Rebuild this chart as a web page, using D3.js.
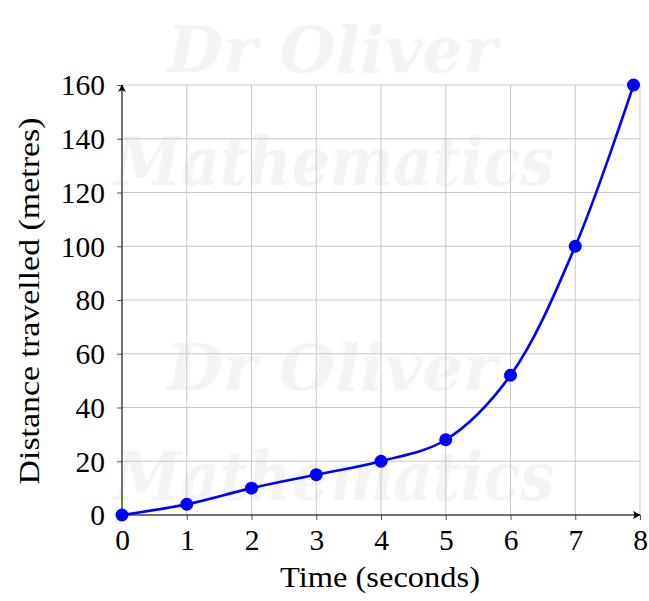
<!DOCTYPE html>
<html><head><meta charset="utf-8">
<script src="https://cdn.jsdelivr.net/npm/d3@7"></script>
<style>body{margin:0;background:#fff}</style>
</head><body>
<svg id="c" width="649" height="601"></svg>
<script>
const timeValues = [0, 1, 2, 3, 4, 5, 6, 7, 7.9];
const distanceValues = [0, 4, 10, 15, 20, 28, 52, 100, 160];
const xTicks = [0, 1, 2, 3, 4, 5, 6, 7, 8];
const yTicks = [0, 20, 40, 60, 80, 100, 120, 140, 160];
const xLabel = "Time (seconds)";
const yLabel = "Distance travelled (metres)";
const watermark = ["Dr Oliver", "Mathematics"];

const svg = d3.select("#c");
const font = "'Liberation Serif', 'DejaVu Serif', serif";
const x = d3.scaleLinear().domain([0, 8]).range([122, 640]);
const y = d3.scaleLinear().domain([0, 160]).range([515, 85]);

// watermark
const wm = svg.append("g").attr("fill", "#f4f4f4").attr("font-family", "'DejaVu Serif', serif")
  .attr("font-style", "italic").attr("font-weight", "bold").attr("text-anchor", "middle");
[[332, 72, 0], [334, 185, 1], [332, 390, 0], [334, 500, 1]].forEach(([cx, cy, i]) => {
  wm.append("text").attr("x", cx).attr("y", cy).attr("font-size", i ? 68 : 64)
    .attr("textLength", i ? 440 : 330).attr("lengthAdjust", "spacingAndGlyphs").text(watermark[i]);
});

// grid
const grid = svg.append("g").attr("stroke", "#c8c8c8").attr("stroke-width", 1);
xTicks.forEach(t => grid.append("line").attr("x1", x(t)).attr("x2", x(t)).attr("y1", y(0)).attr("y2", y(160)));
yTicks.forEach(t => grid.append("line").attr("x1", x(0)).attr("x2", x(8)).attr("y1", y(t)).attr("y2", y(t)));

// axes
const xAxis = svg.append("g").attr("transform", `translate(0,${y(0)})`)
  .call(d3.axisBottom(x).tickValues(xTicks).tickSize(5).tickPadding(11).tickFormat(d3.format("d")));
const yAxis = svg.append("g").attr("transform", `translate(${x(0)},0)`)
  .call(d3.axisLeft(y).tickValues(yTicks).tickSize(5).tickPadding(12).tickFormat(d3.format("d")));
[xAxis, yAxis].forEach(a => {
  a.select(".domain").remove();
  a.selectAll(".tick line").attr("stroke", "#555");
  a.selectAll("text").attr("font-family", font).attr("font-size", 29.5).attr("fill", "#000");
});
xAxis.selectAll("text").attr("dy", "0.66em");
yAxis.selectAll("text").attr("dy", "0.33em");

svg.append("defs").append("marker").attr("id", "arr").attr("viewBox", "0 0 10 10")
  .attr("refX", 9).attr("refY", 5).attr("markerWidth", 8).attr("markerHeight", 8)
  .attr("markerUnits", "userSpaceOnUse").attr("orient", "auto")
  .append("path").attr("d", "M0,0 Q4,5 0,10 L10,5 Z").attr("fill", "#000");
svg.append("line").attr("x1", x(0)).attr("x2", x(8)).attr("y1", y(0)).attr("y2", y(0))
  .attr("stroke", "#000").attr("stroke-width", 1).attr("marker-end", "url(#arr)");
svg.append("line").attr("x1", x(0)).attr("x2", x(0)).attr("y1", y(0)).attr("y2", y(160))
  .attr("stroke", "#000").attr("stroke-width", 1).attr("marker-end", "url(#arr)");

// line
const pts = timeValues.map((t, i) => [t, distanceValues[i]]);
svg.append("path").datum(pts)
  .attr("d", d3.line().x(d => x(d[0])).y(d => y(d[1])).curve(d3.curveCatmullRom.alpha(0.5)))
  .attr("fill", "none").attr("stroke", "#0000ff").attr("stroke-width", 2.6);
svg.append("g").selectAll("circle").data(pts).join("circle")
  .attr("cx", d => x(d[0])).attr("cy", d => y(d[1])).attr("r", 6.5).attr("fill", "#0000ff");

// labels
svg.append("text").attr("x", 380).attr("y", 587).attr("text-anchor", "middle")
  .attr("font-family", font).attr("font-size", 29).attr("textLength", 200)
  .attr("lengthAdjust", "spacingAndGlyphs").text(xLabel);
svg.append("text").attr("transform", "translate(39,301) rotate(-90)").attr("text-anchor", "middle")
  .attr("font-family", font).attr("font-size", 29).attr("textLength", 367)
  .attr("lengthAdjust", "spacingAndGlyphs").text(yLabel);
</script>
</body></html>
